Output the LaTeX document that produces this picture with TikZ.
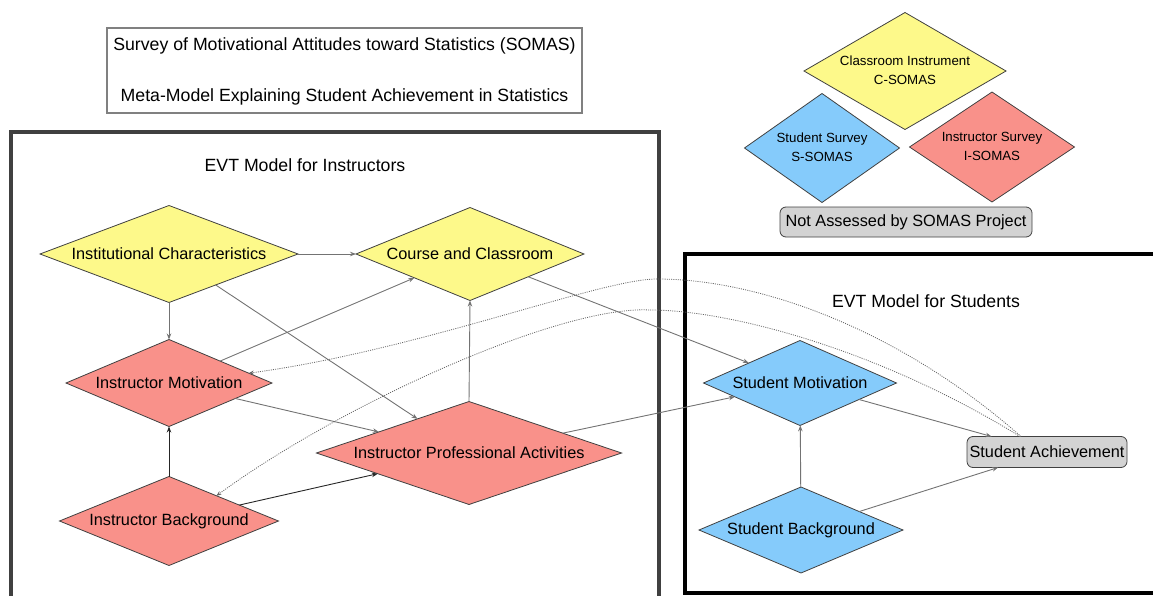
\documentclass[tikz,border=0pt]{standalone}
\usepackage{fontspec}
\setmainfont{Liberation Sans}
\usetikzlibrary{shapes.geometric,arrows.meta}
\definecolor{cyel}{HTML}{FDF98A}
\definecolor{cred}{HTML}{F9918A}
\definecolor{cblue}{HTML}{85CBFB}
\definecolor{cgray}{HTML}{D3D3D3}
\definecolor{cframe}{HTML}{404040}
\begin{document}
\begin{tikzpicture}[x=1pt,y=-1pt,
  dia/.style={diamond, draw=black!75, line width=0.8pt, inner sep=0pt, outer sep=0pt, font=\fontsize{16.3}{19}\selectfont},
  ldia/.style={diamond, draw=black!75, line width=0.8pt, inner sep=0pt, outer sep=0pt, font=\fontsize{13.3}{19}\selectfont},
  rbox/.style={rectangle, rounded corners=6pt, draw=black!75, line width=0.8pt, fill=cgray, inner sep=0pt, outer sep=0pt, font=\fontsize{16.3}{19}\selectfont},
  conn/.style={draw=black!55, line width=0.9pt, -{Stealth[length=6pt,width=4.5pt]}},
  darkconn/.style={draw=black!85, line width=0.9pt, -{Stealth[length=6pt,width=4.5pt]}},
  dotconn/.style={draw=black!60, line width=0.8pt, dash pattern=on 1pt off 1.2pt, -{Stealth[length=5pt,width=4pt]}},
  ttl/.style={font=\fontsize{17.7}{20}\selectfont, inner sep=0pt}
]
\useasboundingbox (0,0) rectangle (1153,596);

% frames
\draw[cframe, line width=4pt] (11,132.5) rectangle (659,620);
\draw[black, line width=4pt] (685,254) rectangle (1180,593);

% title box
\node[draw=black!50, line width=1.3pt, minimum width=475pt, minimum height=85pt, inner sep=0pt] (tb) at (344.5,70.5) {};
\node[ttl] (t1) at (344.5,46) {Survey of Motivational Attitudes toward Statistics (SOMAS)};
\node[ttl] (t2) at (344.5,96.5) {Meta-Model Explaining Student Achievement in Statistics};

% legend
\node[ldia, fill=cyel, minimum width=202pt, minimum height=117pt] (ci) at (905,71)
  {\makebox[0pt]{\begin{tabular}{@{}c@{}}Classroom Instrument\\C-SOMAS\end{tabular}}};
\node[ldia, fill=cblue, minimum width=155pt, minimum height=109pt] (ss) at (822,148)
  {\makebox[0pt]{\begin{tabular}{@{}c@{}}Student Survey\\S-SOMAS\end{tabular}}};
\node[ldia, fill=cred, minimum width=165pt, minimum height=110pt] (is) at (992,147)
  {\makebox[0pt]{\begin{tabular}{@{}c@{}}Instructor Survey\\I-SOMAS\end{tabular}}};
\node[rbox, minimum width=252pt, minimum height=30pt] (na) at (906,222) {Not Assessed by SOMAS Project};

% section titles
\node[ttl] (evti) at (305,165) {EVT Model for Instructors};
\node[ttl] (evts) at (926,301) {EVT Model for Students};

% instructor nodes
\node[dia, fill=cyel, minimum width=258pt, minimum height=97pt] (ic) at (169,254) {\makebox[0pt]{Institutional Characteristics}};
\node[dia, fill=cyel, minimum width=228pt, minimum height=93pt] (cc) at (470,254) {\makebox[0pt]{Course and Classroom}};
\node[dia, fill=cred, minimum width=206pt, minimum height=87pt] (im) at (169,383) {\makebox[0pt]{Instructor Motivation}};
\node[dia, fill=cred, minimum width=305pt, minimum height=103pt] (ipa) at (469,453) {\makebox[0pt]{Instructor Professional Activities}};
\node[dia, fill=cred, minimum width=219pt, minimum height=89pt] (ib) at (169,521) {\makebox[0pt]{Instructor Background}};

% student nodes
\node[dia, fill=cblue, minimum width=193pt, minimum height=85pt] (sm) at (800,383) {\makebox[0pt]{Student Motivation}};
\node[dia, fill=cblue, minimum width=204pt, minimum height=86pt] (sb) at (801,530) {\makebox[0pt]{Student Background}};
\node[rbox, minimum width=160pt, minimum height=31pt] (sa) at (1047,452) {\makebox[0pt]{Student Achievement}};

% connectors
\draw[conn] (ic) -- (cc);
\draw[conn] (ic) -- (im);
\draw[conn] (ic) -- (ipa);
\draw[conn] (im) -- (cc);
\draw[conn] (im) -- (ipa);
\draw[conn] (ipa.north) -- (cc.south);
\draw[darkconn] (ib) -- (im);
\draw[darkconn] (ib) -- (ipa);
\draw[conn] (cc) -- (sm);
\draw[conn] (ipa) -- (sm);
\draw[conn] (sm) -- (sa);
\draw[conn] (sb) -- (sm);
\draw[conn] (sb) -- (sa);

% dotted feedback curves
\draw[dotconn] ([xshift=-26pt]sa.north) .. controls (900,330) and (760,279) .. (657,279)
  .. controls (600,279) and (420,350) .. (im.7);
\draw[dotconn] ([xshift=-27pt]sa.north) .. controls (880,350) and (730,310) .. (650,310)
  .. controls (560,305) and (340,405) .. (ib.28);
\end{tikzpicture}
\end{document}
